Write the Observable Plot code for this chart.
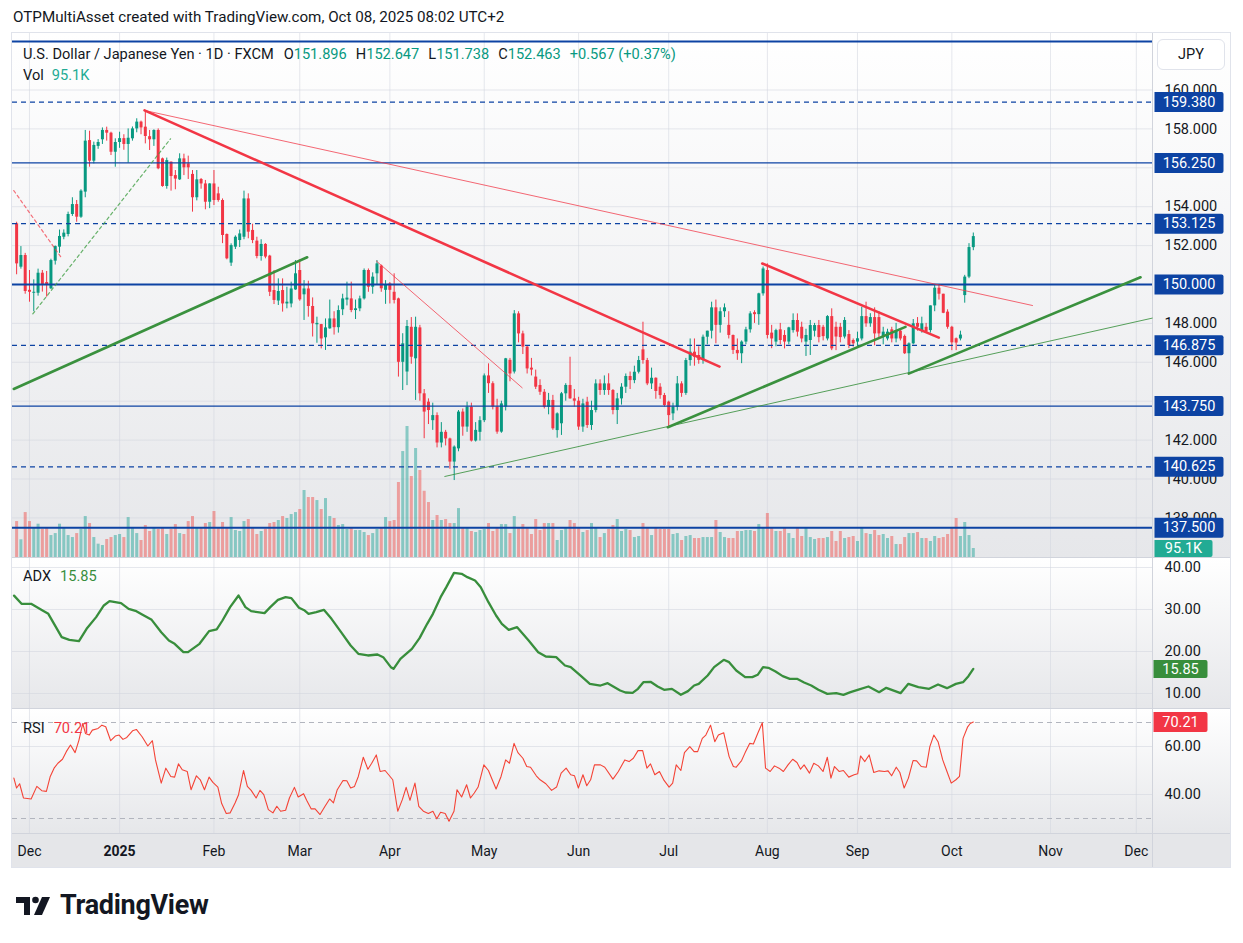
<!DOCTYPE html>
<html><head><meta charset="utf-8">
<script src="https://cdn.jsdelivr.net/npm/d3@7"></script>
<script src="https://cdn.jsdelivr.net/npm/@observablehq/plot@0.6"></script>
<style>
body{margin:0;background:#fff;font-family:Roboto,"Noto Sans","DejaVu Sans",sans-serif;color:#131722;}
#root{position:relative;width:1243px;height:943px;overflow:hidden;background:#fff;}
.a{position:absolute;white-space:nowrap;}
.t14{font-size:14.6px;line-height:18px;}
</style></head><body><div id="root"></div>
<script>
// ---------------- DATA (bar 0 = 27 Nov 2024, daily bars, weekends/holidays skipped) ----------------
const opens = [
153.12,150.89,151.49,149.70,149.55,149.55,150.58,150.10,149.78,151.20,
151.92,152.43,152.57,153.60,154.11,153.46,154.75,157.40,156.34,157.10,
157.44,157.92,157.78,156.80,157.30,157.50,157.20,157.49,158.00,158.35,
158.09,157.60,157.44,157.92,156.46,155.04,156.29,155.60,155.38,156.46,
156.20,155.66,154.46,155.40,155.17,154.23,155.17,154.66,154.32,152.57,
151.10,151.92,152.26,152.43,154.40,152.78,152.23,151.44,152.06,151.46,
149.69,149.15,149.69,149.00,149.00,149.72,150.72,149.47,149.77,148.87,
147.93,147.94,147.26,147.72,148.23,147.78,148.70,149.20,149.26,148.66,
148.75,149.26,150.72,149.86,150.55,150.95,149.70,150.03,149.60,149.26,
146.00,145.50,147.80,146.18,147.77,144.38,143.95,143.00,143.26,141.85,
142.40,142.06,140.87,141.55,143.44,142.67,143.69,141.95,142.40,143.00,
145.30,144.90,143.70,142.41,143.70,146.10,145.50,148.49,147.46,146.78,
145.70,145.24,144.81,144.46,143.69,144.04,142.49,142.84,144.38,144.81,
144.12,144.00,142.67,143.95,142.75,143.52,144.89,144.55,144.89,144.55,
143.52,144.12,144.72,145.27,145.06,145.49,146.64,146.09,144.89,145.18,
144.72,144.29,143.95,143.35,143.69,144.89,144.40,146.09,146.52,146.35,
146.09,147.29,147.60,148.80,147.90,148.60,147.90,147.38,146.61,146.44,
147.04,147.67,148.55,148.45,149.52,150.72,147.50,147.04,147.67,147.38,
147.04,147.63,148.15,147.80,147.04,147.12,147.60,147.89,147.80,147.20,
148.35,147.80,147.80,147.30,147.43,147.12,147.04,147.20,148.35,147.98,
148.30,148.30,147.30,147.20,147.67,147.20,147.60,147.33,146.44,146.95,
148.00,147.63,147.80,147.63,148.90,149.81,149.50,148.58,147.80,147.21,
147.20,149.43,150.38,151.896];
const highs = [
153.20,151.95,151.60,150.72,150.24,150.79,150.72,150.67,151.30,151.98,
152.80,152.81,153.72,154.46,154.32,154.87,157.92,157.88,157.32,157.45,
158.05,158.09,157.83,157.49,157.83,157.70,158.00,158.10,158.52,158.40,
158.95,157.92,157.95,158.00,156.50,156.50,156.30,155.86,156.72,156.70,
156.60,155.86,155.86,155.45,155.35,155.18,155.86,155.00,154.40,152.60,
152.09,152.50,152.80,154.80,154.66,153.10,152.43,152.30,152.10,151.50,
150.72,150.29,150.29,149.86,150.12,151.23,151.27,150.20,150.17,149.31,
148.32,147.95,148.23,149.20,148.60,148.90,149.50,150.12,150.12,149.20,
149.40,150.80,150.80,150.60,151.23,151.00,150.20,150.10,150.55,149.30,
147.47,148.15,148.30,148.32,147.90,144.60,144.12,143.90,143.40,142.90,
142.50,142.10,141.70,143.52,143.60,143.95,143.90,142.90,143.20,145.40,
145.92,145.00,144.10,144.00,146.20,146.20,148.66,148.60,147.60,146.85,
146.20,145.60,145.10,144.60,144.40,144.30,143.40,144.45,144.90,146.26,
144.60,144.20,144.10,144.20,144.00,145.10,145.10,145.30,145.41,144.60,
144.40,144.90,145.40,145.50,145.80,146.30,148.06,146.20,145.70,145.20,
144.90,144.40,144.00,143.90,145.27,145.00,146.20,147.20,147.20,146.80,
147.40,147.60,149.09,149.20,148.80,149.00,148.60,147.40,147.20,147.10,
147.80,148.60,148.65,149.55,150.90,151.06,147.90,147.70,148.00,147.63,
147.80,148.49,148.49,148.06,147.70,148.15,148.00,148.15,147.90,148.40,
148.75,148.06,148.00,148.30,147.63,147.20,147.55,148.83,149.09,148.50,
148.80,148.60,147.80,147.70,147.80,148.00,147.70,147.40,147.00,148.20,
148.30,148.32,148.00,148.90,149.95,149.95,149.50,148.70,147.85,147.25,
147.60,150.47,152.10,152.647];
const lows = [
150.50,150.79,149.50,149.09,148.60,149.40,149.61,149.35,149.74,151.00,
151.60,152.30,152.45,153.50,153.20,153.40,154.46,156.03,156.20,156.95,
157.20,157.37,156.63,156.03,157.00,156.90,156.24,157.37,157.80,157.70,
157.23,156.89,157.10,155.90,155.00,154.90,154.80,154.87,155.35,155.60,
155.40,153.72,154.30,154.90,153.84,153.90,154.06,154.23,152.10,151.27,
150.93,151.80,151.90,152.30,152.35,152.10,151.32,151.20,151.32,149.38,
148.97,148.92,148.58,148.75,148.80,149.70,149.14,148.15,148.32,147.30,
146.98,146.69,146.61,147.70,147.40,147.50,148.40,148.90,148.55,148.20,
148.60,149.20,149.60,149.50,150.00,149.60,148.98,149.00,149.00,145.24,
144.55,144.80,145.90,144.04,144.00,142.07,142.80,142.50,141.60,141.60,
141.70,140.50,139.92,141.40,142.20,142.40,141.90,141.90,141.95,142.90,
144.40,143.55,142.30,142.35,143.50,145.00,145.40,147.00,146.40,145.40,
145.30,144.60,144.30,143.60,143.30,142.50,142.10,142.24,144.00,144.10,
143.70,142.50,142.40,142.60,142.50,143.40,144.30,144.30,144.30,143.30,
142.80,143.80,144.40,144.60,144.90,145.40,145.90,144.80,144.60,144.10,
144.10,143.70,142.67,143.00,143.50,144.20,144.30,145.80,145.80,145.90,
145.90,146.90,147.20,146.95,147.50,148.30,147.20,146.40,146.10,145.93,
146.90,147.50,148.00,147.90,149.40,147.20,146.70,146.80,146.90,146.69,
146.90,147.50,147.30,147.00,146.30,146.35,147.30,147.00,147.10,147.10,
146.60,146.60,147.00,147.20,146.70,146.78,146.80,147.10,147.80,147.80,
146.85,147.20,146.90,147.10,147.00,147.00,147.10,146.40,145.41,146.90,
147.60,147.50,147.50,147.50,148.60,149.20,148.50,147.70,146.60,146.60,
147.10,149.04,150.30,151.738];
const closes = [
151.06,151.49,149.64,149.60,149.60,150.58,149.95,149.95,151.23,151.95,
152.47,152.64,153.60,154.11,153.46,154.80,157.37,156.34,157.15,157.30,
157.92,157.78,156.80,157.30,157.50,157.20,157.52,158.00,158.35,158.05,
157.61,157.44,157.92,155.95,155.04,156.37,155.55,155.42,156.46,156.00,
156.00,154.46,155.38,155.17,154.23,155.17,154.32,154.32,152.52,151.32,
152.00,152.43,152.60,154.40,152.69,152.26,151.44,152.06,151.41,149.60,
149.18,149.64,149.00,149.09,149.77,150.55,149.21,149.77,148.87,147.98,
148.00,147.20,147.77,148.23,147.78,148.66,149.26,149.30,148.66,148.75,
149.26,150.72,149.86,150.38,151.06,149.78,149.95,149.70,149.18,146.00,
146.95,147.84,146.26,147.80,144.38,143.44,143.52,143.26,141.85,142.40,
142.06,140.87,141.64,143.44,142.67,143.69,141.95,142.50,143.00,145.30,
144.90,143.70,142.41,143.86,146.18,145.40,148.49,147.46,146.78,145.66,
145.60,144.72,144.46,143.69,144.04,142.58,143.35,144.38,144.81,144.12,
144.00,142.67,143.86,142.75,143.52,144.89,144.55,144.89,144.55,143.52,
144.12,144.72,145.27,145.06,145.49,146.09,146.09,144.89,145.18,144.50,
144.29,143.78,143.26,143.69,144.89,144.40,146.09,146.52,146.26,146.10,
147.29,147.60,148.80,147.90,148.60,148.80,147.38,146.61,146.44,147.04,
147.67,148.49,148.45,149.52,150.80,147.38,147.20,147.63,147.12,147.04,
147.77,148.15,147.55,147.20,147.38,147.89,147.89,147.27,147.32,148.35,
146.69,147.30,147.27,148.15,146.86,146.95,147.21,148.35,147.98,148.30,
147.46,147.46,147.55,147.55,147.20,147.63,147.20,146.44,146.95,147.98,
147.80,147.98,147.55,148.90,149.81,149.50,148.52,147.80,147.00,146.99,
147.40,150.38,151.90,152.463];
const volumesK = [
380,187,475,380,310,352,299,310,232,253,
352,310,232,211,253,296,433,359,211,141,
127,190,211,232,243,211,422,310,253,180,
338,275,310,296,310,243,296,348,253,243,
380,433,310,310,359,370,486,310,370,310,
422,285,275,380,401,310,243,275,299,359,
370,391,433,412,454,475,507,708,634,634,
602,507,623,433,412,338,348,296,310,285,
285,264,232,253,296,310,422,380,391,793,
1120,1385,856,1152,920,700,581,391,444,391,
401,359,359,517,310,310,275,264,285,296,
359,275,310,348,348,253,433,310,348,310,
243,401,285,359,359,359,180,285,310,391,
359,310,264,285,359,310,211,253,296,338,
401,275,296,285,211,222,359,306,232,306,
296,296,296,243,253,180,222,232,201,201,
211,211,211,391,264,211,201,201,275,275,
285,285,275,348,317,465,310,275,275,310,
253,201,310,222,310,211,190,201,201,211,
275,169,275,201,211,222,169,310,253,243,
285,232,243,201,222,137,137,211,253,253,
264,201,201,169,222,201,211,243,310,412,
222,370,232,95.1];

const monthTickBars   = [3, 24, 46, 66, 87, 109, 131, 152, 175, 196, 218, 241, 261];
const monthTickLabels = ["Dec","2025","Feb","Mar","Apr","May","Jun","Jul","Aug","Sep","Oct","Nov","Dec"];
const priceGridTicks = [138,140,142,144,146,148,150,152,154,156,158,160];
const priceLabelTicks = [138,140,142,146,148,152,154,158,160];
const solidLevels  = [162.5, 156.25, 150, 143.75, 137.5];
const dashedLevels = [159.38, 153.125, 146.875, 140.625];
const labeledLevels = [159.38, 156.25, 153.125, 150, 146.875, 143.75, 140.625, 137.5];

// trend-line drawings: [bar, price] endpoints
const redThinFromJanHigh  = [[29.81,158.95],[236.8,148.92]];
const redThickFromJanHigh = [[29.81,158.95],[163.85,145.78]];
const redThinFromMarHigh  = [[83.89,151.20],[117.85,144.69]];
const redThickFromAugHigh = [[173.8,151.08],[214.96,147.27]];
const redDashedDec        = [[-0.66,154.83],[10.62,151.32]];
const greenDashedDec      = [[3.77,148.49],[35.87,157.49]];
const greenThickDec       = [[-0.66,144.63],[67.73,151.40]];
const greenThinFromApr    = [[99.81,140.13],[264.7,148.27]];
const greenThickFromJul   = [[151.8,142.66],[207.2,147.82]];
const greenThickFromSep   = [[207.96,145.42],[261.98,150.37]];

// ADX (14) sampled vertices: bar, value
const adxBars = [-0.6,1.15,3.38,6.05,7.39,8.73,10.51,12.3,14.53,16.31,18.54,20.33,21.66,24.34,26.12,27.91,29.25,31.48,33.71,35.49,36.83,38.88,39.95,42.63,44.86,46.64,47.98,49.76,51.73,53.33,54.67,57.79,59.13,60.91,62.7,64.04,65.82,67.16,68.05,69.84,71.62,73.4,75.63,77.86,79.65,81.88,84.11,85.45,87.23,87.86,89.46,90.8,92.14,93.92,95.7,97.04,98.83,100.16,101.95,103.73,105.07,106.86,108.19,109.98,111.76,113.1,114.71,116.67,119.35,121.58,123.36,125.77,127.82,129.16,131.39,133.62,136.1,137.77,140.68,141.93,143.59,144.84,146.09,147.76,149.42,150.92,152.75,154.83,156.5,157.92,159.0,161.08,162.58,164.83,166.08,167.74,169.82,171.49,172.74,173.99,175.24,176.9,178.57,180.23,181.9,183.56,185.23,186.89,188.97,191.05,192.72,194.38,196.05,198.55,201.05,202.71,206.04,207.87,210.2,212.7,214.78,216.86,218.95,220.61,221.86,223.0];
const adxValues = [33.3,31.35,31.35,29.76,28.97,26.59,23.42,22.78,22.46,25.4,28.18,30.96,31.99,31.51,30.16,29.6,28.81,27.54,24.6,22.62,21.83,19.84,19.84,21.83,24.84,25.24,27.38,30.56,33.34,30.56,29.6,29.13,30.56,32.3,32.94,32.7,30.4,29.76,28.97,29.37,29.92,27.78,24.6,21.43,19.45,19.05,19.29,18.65,16.27,15.87,18.26,19.45,20.64,23.18,26.59,28.97,32.94,35.32,38.73,38.5,37.7,36.91,35.32,31.75,28.57,26.59,25.16,25.8,22.62,19.84,18.81,18.65,16.67,16.27,14.29,12.29,11.9,12.46,10.72,10.24,10.16,11.11,12.7,12.78,11.67,10.88,11.11,9.69,10.56,11.9,12.3,14.29,16.27,18.02,17.46,15.48,13.89,13.89,14.45,16.27,16.11,15.24,14.13,13.5,13.5,12.62,11.9,10.88,9.92,10.08,9.69,10.32,10.88,11.67,10.32,11.35,10.08,12.3,11.51,11.11,12.15,11.27,12.3,12.7,14.13,15.85];
const adxTicks = [10,20,30,40];

// RSI (14) sampled vertices: bar, value
const rsiBars = [-0.64,-0.01,0.7,1.59,3.38,4.71,5.87,6.94,7.84,8.73,9.62,10.69,11.58,12.56,13.63,14.53,15.42,16.04,16.94,17.65,18.99,19.88,20.77,21.93,23.0,23.89,24.79,25.68,27.02,27.91,29.25,30.58,31.65,32.37,33.71,34.78,35.94,36.83,37.72,38.61,39.77,40.66,41.91,42.81,43.79,44.86,45.75,46.91,47.8,48.87,49.76,50.92,51.73,52.89,53.78,54.67,55.83,56.72,57.61,58.68,59.75,60.65,61.54,62.7,63.59,64.75,65.64,66.89,67.6,68.68,69.57,70.73,71.89,72.96,73.85,74.74,76.08,76.97,77.86,78.76,79.65,80.81,81.88,82.77,83.84,84.73,85.89,87.68,88.84,89.91,90.8,91.69,92.85,93.74,94.81,95.97,97.04,97.93,98.83,99.9,100.79,101.95,102.66,103.73,104.89,105.79,106.68,107.57,108.91,109.98,111.76,112.92,113.99,114.88,115.95,116.85,118.01,118.9,119.79,121.13,122.02,123.36,124.7,125.86,126.93,128.09,129.16,130.05,130.94,132.01,132.9,133.8,134.69,136.1,137.1,139.0,140.26,141.76,142.76,143.76,144.84,145.93,146.92,147.76,148.76,149.84,150.92,152.09,152.92,153.75,154.83,155.67,156.92,157.92,158.75,159.83,160.66,161.75,162.74,163.58,164.83,166.08,167.07,167.74,168.99,169.82,170.9,171.74,172.74,173.82,174.57,175.65,176.65,177.73,178.73,179.81,180.9,181.9,182.73,183.56,184.81,185.81,186.89,187.97,188.97,189.81,190.64,191.72,192.72,193.97,195.22,196.05,196.72,197.72,198.72,199.8,201.05,202.3,203.13,203.96,205.04,205.88,206.88,207.87,208.96,209.79,210.87,212.04,212.87,213.79,214.78,215.87,216.86,217.86,218.95,219.78,220.61,221.69,222.28,223.0];
const rsiValues = [46.83,42.69,44.48,38.55,38.14,43.38,41.59,41.31,47.52,50.97,53.03,54.69,57.86,60.62,57.45,62.69,69.59,65.45,64.76,66.83,67.52,68.9,68.21,62.41,64.34,64.76,62.97,63.79,66.55,67.1,64.07,60.21,62.41,54.41,44.76,50.97,47.52,47.24,52.76,50.28,49.59,42.0,47.79,46.14,42.0,47.24,45.03,43.1,36.21,32.07,32.34,36.48,39.93,50.0,43.38,41.72,38.55,41.72,39.93,33.72,32.34,35.1,33.03,33.45,38.55,42.97,38.97,40.34,37.59,34.0,34.0,31.66,35.1,38.14,36.48,42.0,45.86,45.72,42.69,43.38,47.52,55.52,50.55,53.03,56.48,49.59,50.0,46.14,33.03,37.86,42.97,37.59,44.76,35.1,33.03,32.07,33.03,29.86,32.62,32.07,28.9,33.03,42.0,38.97,44.07,38.55,40.62,43.1,52.34,50.0,42.28,47.52,54.41,53.03,61.31,57.45,55.1,51.66,51.38,47.79,46.14,44.48,41.72,43.1,48.9,50.97,48.21,47.79,42.69,48.21,43.66,46.14,52.34,52.34,51.38,46.41,49.59,54.41,53.72,55.1,58.28,58.28,50.97,52.76,48.21,49.59,45.86,43.1,44.76,52.34,50.0,57.45,59.93,57.86,57.86,63.38,64.76,68.9,62.0,64.76,65.72,55.79,51.66,51.38,54.14,57.45,61.31,61.03,65.45,69.86,50.97,49.59,51.93,50.97,49.59,52.34,54.69,53.31,50.55,52.34,48.9,53.03,51.93,49.59,55.52,46.83,51.66,49.59,50.0,47.24,48.21,48.62,56.07,53.72,56.48,49.17,49.86,49.59,49.86,47.79,51.38,49.17,42.69,46.83,54.14,54.0,51.66,51.38,59.93,64.76,62.0,54.41,49.59,44.76,46.14,47.52,63.38,68.21,69.59,70.21];
const rsiTicks = [40,60];
const rsiBands = [30,70];

// ---------------- LAYOUT / STYLE ----------------
const root = document.getElementById("root");
const FONT = 'Roboto,"Noto Sans","DejaVu Sans",sans-serif';
const PANE_L = 12, PANE_W = 1218, AXIS_W = 78;
const GREEN = "#089981", RED = "#f23645", VUP = "rgba(38,166,154,0.5)", VDN = "rgba(239,83,80,0.5)";
const LVL = "#0d43a3", GRID = "rgba(210,214,222,0.55)";
const AX_FS = 14.5;
const xDomain = [-0.96, 264.77];
const MAIN_TOP = 33, MAIN_H = 524;
const ADX_TOP = 558, ADX_H = 150;
const RSI_TOP = 709, RSI_H = 124, XAX_H = 34;
const priceDomain = [150 - (MAIN_TOP + MAIN_H - 284) / 19.45, 150 + (284 - MAIN_TOP) / 19.45];
const volDomain = [0, MAIN_H * 10.57];
const adxDomain = [20 - (ADX_TOP + ADX_H - 651) / 4.2, 20 + (651 - ADX_TOP) / 4.2];
const rsiDomain = [70 - (RSI_TOP + RSI_H - 722) / 2.4, 70 + (722 - RSI_TOP) / 2.4];

function div(css, html) { const d = document.createElement("div"); d.className = "a"; d.style.cssText = css; if (html) d.innerHTML = html; root.appendChild(d); return d; }
function place(svg, top) {
  svg.style.position = "absolute"; svg.style.left = PANE_L + "px"; svg.style.top = top + "px";
  svg.style.background = "transparent"; svg.style.overflow = "visible"; svg.style.maxWidth = "none";
  root.appendChild(svg);
}
function boxSymbol(w, h) {
  const r = 2;
  return { draw(ctx) {
    ctx.moveTo(-w/2, -h/2); ctx.lineTo(w/2 - r, -h/2); ctx.arcTo(w/2, -h/2, w/2, -h/2 + r, r);
    ctx.lineTo(w/2, h/2 - r); ctx.arcTo(w/2, h/2, w/2 - r, h/2, r); ctx.lineTo(-w/2, h/2); ctx.closePath();
  }};
}
const baseOpts = (h, yDomain, mb = 0) => ({
  width: PANE_W, height: h, marginLeft: 0, marginRight: AXIS_W, marginTop: 0, marginBottom: mb,
  x: {domain: xDomain, axis: null}, y: {domain: yDomain, axis: null},
  color: {type: "identity"},
  style: {background: "transparent", fontFamily: FONT, fontSize: "14px", color: "#131722", overflow: "visible"}
});

// pane backgrounds & borders
const grad = "linear-gradient(180deg,#ffffff 0%,#e6e7ea 100%)";
div(`left:${PANE_L}px;top:${MAIN_TOP}px;width:${PANE_W}px;height:${MAIN_H}px;background:${grad};`);
div(`left:${PANE_L}px;top:${ADX_TOP}px;width:${PANE_W}px;height:${ADX_H}px;background:${grad};`);
div(`left:${PANE_L}px;top:${RSI_TOP}px;width:${PANE_W}px;height:${RSI_H}px;background:${grad};`);
div(`left:${PANE_L}px;top:${RSI_TOP + RSI_H}px;width:${PANE_W}px;height:${XAX_H}px;background:#e5e6e9;`);
div(`left:${PANE_L}px;top:${MAIN_TOP + MAIN_H}px;width:${PANE_W}px;height:1px;background:#d1d4dc;`);
div(`left:${PANE_L}px;top:${ADX_TOP + ADX_H}px;width:${PANE_W}px;height:1px;background:#d1d4dc;`);
div(`left:${PANE_L}px;top:${RSI_TOP + RSI_H}px;width:${PANE_W}px;height:1px;background:#d1d4dc;`);
div(`left:${PANE_L + PANE_W - AXIS_W}px;top:${MAIN_TOP}px;width:1px;height:${RSI_TOP + RSI_H + XAX_H - MAIN_TOP}px;background:#d1d4dc;`);
div(`left:${PANE_L - 1}px;top:${MAIN_TOP - 1}px;width:${PANE_W}px;height:${RSI_TOP + RSI_H + XAX_H - MAIN_TOP}px;border:1px solid #e0e3eb;`);

const bars = opens.map((o, k) => ({bar: k, o, h: highs[k], l: lows[k], c: closes[k], v: volumesK[k], up: closes[k] >= o}));
const last = bars[bars.length - 1];

// ---- main pane: grid layer
place(Plot.plot({...baseOpts(MAIN_H, priceDomain), marks: [
  Plot.ruleY(priceGridTicks, {stroke: GRID}),
  Plot.ruleX(monthTickBars, {stroke: GRID})
]}), MAIN_TOP);

// ---- volume overlay
place(Plot.plot({...baseOpts(MAIN_H, volDomain), marks: [
  Plot.ruleX(bars, {x: "bar", y1: 0, y2: "v", stroke: d => d.up ? VUP : VDN, strokeWidth: 3}),
  Plot.dot([last.v], {y: d => d, frameAnchor: "right", dx: 31, symbol: boxSymbol(58, 17), fill: "#22ab94"}),
  Plot.text([last.v], {y: d => d, frameAnchor: "right", dx: 31, text: d => d3.format(".1f")(d) + "K", fill: "white", fontSize: AX_FS, textAnchor: "middle"})
]}), MAIN_TOP);

// ---- price layer
const line = (pts, o) => Plot.line(pts, {x: d => d[0], y: d => d[1], ...o});
place(Plot.plot({...baseOpts(MAIN_H, priceDomain), marks: [
  Plot.ruleX(bars, {x: "bar", y1: "l", y2: "h", stroke: d => d.up ? GREEN : RED, strokeWidth: 1}),
  Plot.ruleX(bars, {x: "bar", y1: "o", y2: "c", stroke: d => d.up ? GREEN : RED, strokeWidth: 3}),
  Plot.ruleY(solidLevels.filter(v => v % 12.5 === 0), {stroke: LVL, strokeWidth: 2}),
  Plot.ruleY(solidLevels.filter(v => v % 12.5 !== 0), {stroke: LVL, strokeWidth: 1.3}),
  Plot.ruleY(dashedLevels, {stroke: LVL, strokeWidth: 1.3, strokeDasharray: "5,4"}),
  line(redThinFromJanHigh, {stroke: RED, strokeWidth: 1, strokeOpacity: 0.75}),
  line(redThickFromJanHigh, {stroke: RED, strokeWidth: 2.6}),
  line(redThinFromMarHigh, {stroke: RED, strokeWidth: 1, strokeOpacity: 0.75}),
  line(redThickFromAugHigh, {stroke: RED, strokeWidth: 2.6}),
  line(redDashedDec, {stroke: RED, strokeWidth: 1.2, strokeOpacity: 0.7, strokeDasharray: "3,3"}),
  line(greenDashedDec, {stroke: "#43a047", strokeWidth: 1.2, strokeOpacity: 0.8, strokeDasharray: "3,3"}),
  line(greenThickDec, {stroke: "#3a913e", strokeWidth: 2.6}),
  line(greenThinFromApr, {stroke: "#3a913e", strokeWidth: 1, strokeOpacity: 0.85}),
  line(greenThickFromJul, {stroke: "#3a913e", strokeWidth: 2.6}),
  line(greenThickFromSep, {stroke: "#3a913e", strokeWidth: 2.6}),
  Plot.axisY({anchor: "right", ticks: priceLabelTicks, tickFormat: d3.format(".3f"), tickSize: 0, tickPadding: 12, fontSize: AX_FS, label: null}),
  Plot.dot(labeledLevels, {y: d => d, frameAnchor: "right", dx: 36.5, symbol: boxSymbol(69, 20), fill: LVL}),
  Plot.text(labeledLevels, {y: d => d, frameAnchor: "right", dx: 36.5, text: d => d3.format(".3f")(d), fill: "white", fontSize: AX_FS, textAnchor: "middle"})
]}), MAIN_TOP);

// ---- ADX pane
place(Plot.plot({...baseOpts(ADX_H, adxDomain), marks: [
  Plot.ruleY(adxTicks, {stroke: GRID}),
  Plot.ruleX(monthTickBars, {stroke: GRID}),
  Plot.line(adxBars, {x: d => d, y: (d, i) => adxValues[i], stroke: "#388e3c", strokeWidth: 2.3}),
  Plot.axisY({anchor: "right", ticks: adxTicks, tickFormat: d3.format(".2f"), tickSize: 0, tickPadding: 12, fontSize: AX_FS, label: null}),
  Plot.dot([adxValues[adxValues.length - 1]], {y: d => d, frameAnchor: "right", dx: 28, symbol: boxSymbol(54, 18), fill: "#388e3c"}),
  Plot.text([adxValues[adxValues.length - 1]], {y: d => d, frameAnchor: "right", dx: 28, text: d => d3.format(".2f")(d), fill: "white", fontSize: AX_FS, textAnchor: "middle"})
]}), ADX_TOP);

// ---- RSI pane + time axis
const isYear = (d, i) => /^\d{4}$/.test(monthTickLabels[i]);
place(Plot.plot({...baseOpts(RSI_H + XAX_H, rsiDomain, XAX_H), marks: [
  Plot.ruleY(rsiTicks, {stroke: GRID}),
  Plot.ruleX(monthTickBars, {stroke: GRID}),
  Plot.ruleY(rsiBands, {stroke: "#b2b5be", strokeDasharray: "5,4"}),
  Plot.line(rsiBars, {x: d => d, y: (d, i) => rsiValues[i], stroke: "#f44336", strokeWidth: 1.1}),
  Plot.axisY({anchor: "right", ticks: rsiTicks, tickFormat: d3.format(".2f"), tickSize: 0, tickPadding: 12, fontSize: AX_FS, label: null}),
  Plot.dot([rsiValues[rsiValues.length - 1]], {y: d => d, frameAnchor: "right", dx: 28, symbol: boxSymbol(54, 20), fill: "#f23645"}),
  Plot.text([rsiValues[rsiValues.length - 1]], {y: d => d, frameAnchor: "right", dx: 28, text: d => d3.format(".2f")(d), fill: "white", fontSize: AX_FS, textAnchor: "middle"}),
  Plot.text(monthTickBars, {x: d => d, text: (d, i) => monthTickLabels[i], filter: (d, i) => !isYear(d, i), frameAnchor: "bottom", dy: 18, lineAnchor: "middle", fontSize: 14, fill: "#131722"}),
  Plot.text(monthTickBars, {x: d => d, text: (d, i) => monthTickLabels[i], filter: isYear, frameAnchor: "bottom", dy: 18, lineAnchor: "middle", fontSize: 14, fontWeight: "bold", fill: "#131722"})
]}), RSI_TOP);

// ---- texts
const TEAL = "#089981";
const tt = div(`left:13px;top:8px;font-size:15.2px;line-height:18px;`);
tt.textContent = "OTPMultiAsset created with TradingView.com, Oct 08, 2025 08:02 UTC+2";
const chg = last.c - last.o, pct = chg / last.o * 100;
const f3 = d3.format(".3f");
const lg = div(`left:23px;top:45px;`);
lg.className = "a t14";
lg.innerHTML = `U.S. Dollar / Japanese Yen · 1D · FXCM` +
  `<span style="margin-left:10px">O<span style="color:${TEAL}">${f3(last.o)}</span></span>` +
  `<span style="margin-left:9px">H<span style="color:${TEAL}">${f3(last.h)}</span></span>` +
  `<span style="margin-left:9px">L<span style="color:${TEAL}">${f3(last.l)}</span></span>` +
  `<span style="margin-left:9px">C<span style="color:${TEAL}">${f3(last.c)}</span></span>` +
  `<span style="margin-left:9px;color:${TEAL}">${chg >= 0 ? "+" : ""}${f3(chg)} (${chg >= 0 ? "+" : ""}${d3.format(".2f")(pct)}%)</span>`;
const vl = div(`left:23px;top:66px;`); vl.className = "a t14";
vl.innerHTML = `Vol<span style="margin-left:8px;color:#22ab94">${d3.format(".1f")(last.v)}K</span>`;
const al = div(`left:23px;top:567px;`); al.className = "a t14";
al.innerHTML = `ADX<span style="margin-left:9px;color:#388e3c">${d3.format(".2f")(adxValues[adxValues.length - 1])}</span>`;
const rl = div(`left:23px;top:719px;`); rl.className = "a t14";
rl.innerHTML = `RSI<span style="margin-left:9px;color:#f23645">${d3.format(".2f")(rsiValues[rsiValues.length - 1])}</span>`;
const jp = div(`left:1157px;top:39px;width:68px;height:31px;background:#fff;border:1px solid #e0e3eb;border-radius:6px;box-sizing:border-box;text-align:center;line-height:29px;font-size:14.5px;`);
jp.textContent = "JPY";

// TradingView logo
div(`left:16px;top:893px;`, `<svg width="40" height="26" viewBox="0 0 40 26"><path d="M0 4h14v18h-6v-12h-8z" fill="#131722"/><circle cx="19.5" cy="7" r="3.3" fill="#131722"/><path d="M26 4h8l-8 18h-8z" fill="#131722"/></svg>`);
const tv = div(`left:60px;top:889px;font-size:27px;line-height:32px;font-weight:700;letter-spacing:-0.3px;color:#131722;`);
tv.textContent = "TradingView";
</script></body></html>
